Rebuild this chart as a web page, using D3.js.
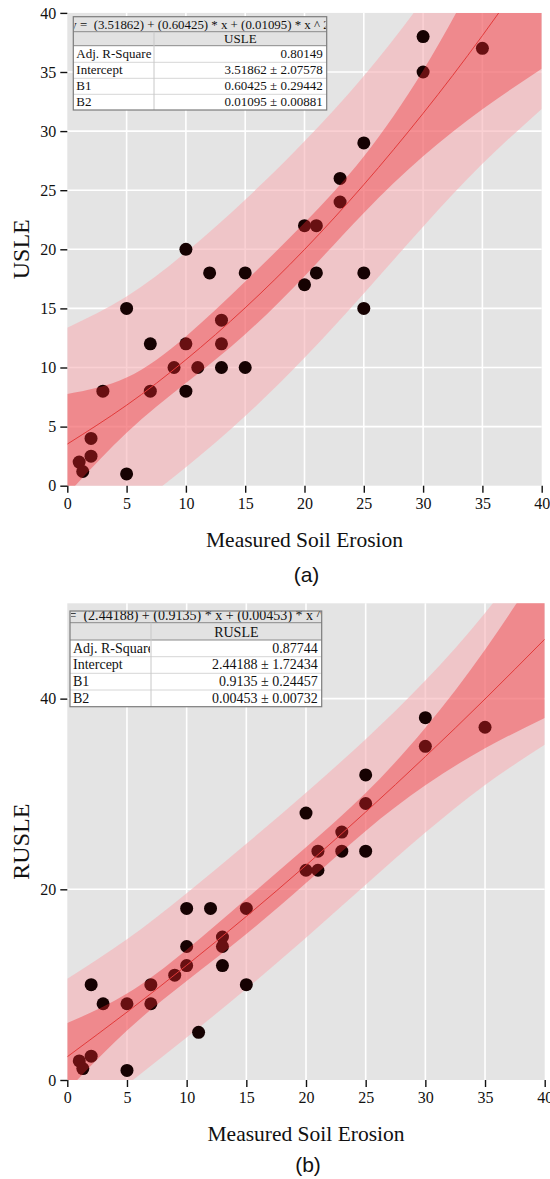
<!DOCTYPE html>
<html>
<head>
<meta charset="utf-8">
<script src="https://cdn.jsdelivr.net/npm/d3@7"></script>
<style>
  body { margin: 0; background: #fff; }
  svg { display: block; }
  text { font-family: "Liberation Serif", "Times New Roman", serif; fill: #111; }
</style>
</head>
<body>
<div id="chart"></div>
<script>
// measured soil erosion vs model estimates
const xTicks = [0, 5, 10, 15, 20, 25, 30, 35, 40];
const usleTicks = [0, 5, 10, 15, 20, 25, 30, 35, 40];
const rusleTicks = [0, 20, 40];

const usleX = [30, 35, 30, 25, 23, 23, 20, 21, 10, 12, 15, 21, 25, 20, 5, 25, 13, 7, 10, 13, 9, 11, 13, 15, 3, 7, 10, 2, 2, 1, 1.3, 5];
const usleY = [38, 37, 35, 29, 26, 24, 22, 22, 20, 18, 18, 18, 18, 17, 15, 15, 14, 12, 12, 12, 10, 10, 10, 10, 8, 8, 8, 4, 2.5, 2, 1.2, 1];

const rusleX = [30, 35, 30, 25, 25, 20, 23, 21, 23, 25, 20, 21, 10, 12, 15, 13, 10, 13, 10, 13, 9, 2, 7, 15, 3, 5, 7, 11, 2, 1, 1.3, 5];
const rusleY = [38, 37, 35, 32, 29, 28, 26, 24, 24, 24, 22, 22, 18, 18, 18, 15, 14, 14, 12, 12, 11, 10, 10, 10, 8, 8, 8, 5, 2.5, 2, 1.2, 1];

// fitted curve and 95% bands, read at x = 0, 5, ... 40
const bandX = [0, 5, 10, 15, 20, 25, 30, 35, 40];
const usleFit = [3.52, 6.81, 10.66, 15.05, 19.98, 25.47, 31.50, 38.08, 45.21];
const usleConfLo = [-0.73, 4.48, 8.68, 12.82, 17.73, 23.08, 27.87, 31.85, 35.27];
const usleConfHi = [7.76, 9.15, 12.63, 17.27, 22.24, 27.86, 35.13, 44.31, 55.15];
const uslePredLo = [-6.33, -2.37, 1.56, 5.89, 10.82, 16.27, 21.91, 27.23, 31.88];
const uslePredHi = [13.36, 16.00, 19.76, 24.20, 29.15, 34.67, 41.10, 48.93, 58.54];

const rusleFit = [2.44, 7.12, 12.03, 17.16, 22.52, 28.11, 33.92, 39.96, 46.23];
const rusleConfLo = [-1.09, 5.19, 10.39, 15.31, 20.65, 26.13, 30.91, 34.79, 37.97];
const rusleConfHi = [5.97, 9.06, 13.67, 19.01, 24.40, 30.10, 36.94, 45.14, 54.49];
const ruslePredLo = [-5.74, -0.51, 4.47, 9.56, 14.91, 20.47, 25.95, 30.95, 35.16];
const ruslePredHi = [10.62, 14.75, 19.59, 24.77, 30.14, 35.75, 41.90, 48.98, 57.31];

const usleEquation = "y =  (3.51862) + (0.60425) * x + (0.01095) * x ^ 2";
const usleRows = [
  ["Adj. R-Square", "0.80149"],
  ["Intercept", "3.51862 \u00b1 2.07578"],
  ["B1", "0.60425 \u00b1 0.29442"],
  ["B2", "0.01095 \u00b1 0.00881"]
];
const rusleEquation = "y =  (2.44188) + (0.9135) * x + (0.00453) * x ^ 2";
const rusleRows = [
  ["Adj. R-Square", "0.87744"],
  ["Intercept", "2.44188 \u00b1 1.72434"],
  ["B1", "0.9135 \u00b1 0.24457"],
  ["B2", "0.00453 \u00b1 0.00732"]
];

const W = 550, H = 1179;
const svg = d3.select("#chart").append("svg")
  .attr("width", W).attr("height", H)
  .attr("viewBox", [0, 0, W, H]);

function drawPanel(o) {
  const x = d3.scaleLinear().domain([0, 40]).range([o.left, o.right]);
  const y = d3.scaleLinear().domain([0, o.yMax]).range([o.bottom, o.top]);
  const g = svg.append("g");

  g.append("clipPath").attr("id", o.id + "-clip")
    .append("rect")
    .attr("x", o.left).attr("y", o.top)
    .attr("width", o.right - o.left).attr("height", o.bottom - o.top);

  g.append("rect")
    .attr("x", o.left).attr("y", o.top)
    .attr("width", o.right - o.left).attr("height", o.bottom - o.top)
    .attr("fill", "#e4e4e4");

  // grid
  g.selectAll(".vg").data(xTicks.filter(d => d > 0 && d < 40)).join("line")
    .attr("x1", d => x(d)).attr("x2", d => x(d))
    .attr("y1", o.top).attr("y2", o.bottom)
    .attr("stroke", "#fff").attr("stroke-width", 1.6);
  g.selectAll(".hg").data(o.yTicks.filter(d => d > 0 && d < o.yMax)).join("line")
    .attr("x1", o.left).attr("x2", o.right)
    .attr("y1", d => y(d)).attr("y2", d => y(d))
    .attr("stroke", "#fff").attr("stroke-width", 1.6);

  const plot = g.append("g").attr("clip-path", `url(#${o.id}-clip)`);
  const idx = d3.range(bandX.length);

  const band = (lo, hi) => d3.area()
    .curve(d3.curveNatural)
    .x(i => x(bandX[i]))
    .y0(i => y(lo[i]))
    .y1(i => y(hi[i]));

  plot.append("path").datum(idx)
    .attr("d", band(o.predLo, o.predHi))
    .attr("fill", "rgb(246,176,182)").attr("fill-opacity", 0.6);

  plot.selectAll("circle").data(o.px).join("circle")
    .attr("cx", d => x(d))
    .attr("cy", (d, i) => y(o.py[i]))
    .attr("r", 6.5)
    .attr("fill", "#160202");

  plot.append("path").datum(idx)
    .attr("d", band(o.confLo, o.confHi))
    .attr("fill", "rgb(238,40,44)").attr("fill-opacity", 0.38);

  plot.append("path").datum(idx)
    .attr("d", d3.line().curve(d3.curveNatural)
      .x(i => x(bandX[i])).y(i => y(o.fit[i])))
    .attr("fill", "none").attr("stroke", "#e23a3a").attr("stroke-width", 1);

  // axes
  const ax = g.append("g").attr("transform", `translate(0,${o.bottom})`)
    .call(d3.axisBottom(x).tickValues(xTicks).tickSize(7).tickPadding(5));
  const ay = g.append("g").attr("transform", `translate(${o.left},0)`)
    .call(d3.axisLeft(y).tickValues(o.yTicks).tickSize(7).tickPadding(4));
  [ax, ay].forEach(a => {
    a.select(".domain").remove();
    a.selectAll(".tick line").attr("stroke", "#111").attr("stroke-width", 1.4);
    a.selectAll(".tick text")
      .attr("font-family", "Liberation Serif, serif")
      .attr("font-size", 16).attr("fill", "#111");
  });

  g.append("text")
    .attr("x", (o.left + o.right) / 2).attr("y", o.bottom + 61)
    .attr("text-anchor", "middle").attr("font-size", 21.5)
    .text("Measured Soil Erosion");

  g.append("text")
    .attr("transform", `translate(29,${(o.top + o.bottom) / 2}) rotate(-90)`)
    .attr("text-anchor", "middle").attr("font-size", 24)
    .text(o.yLabel);

  g.append("text")
    .attr("x", (o.left + o.right) / 2 + 2).attr("y", o.bottom + o.tagDy)
    .attr("text-anchor", "middle")
    .style("font-family", "Liberation Sans, Arial, sans-serif")
    .attr("font-size", 21)
    .text(o.tag);

  drawTable(g, o);
}

function drawTable(g, o) {
  const t = o.table;
  const rows = t.rows; // row edges
  const tg = g.append("g");
  const cell = (x0, y0, x1, y1, fill) => tg.append("rect")
    .attr("x", x0).attr("y", y0).attr("width", x1 - x0).attr("height", y1 - y0)
    .attr("fill", fill);

  cell(t.x0, rows[0], t.x1, rows[2], "#e2e2e2");
  cell(t.x0, rows[2], t.x1, rows[6], "#fff");

  // clip for each cell
  const clipId = (k) => `${o.id}-c${k}`;
  const addClip = (k, x0, y0, x1, y1) => tg.append("clipPath").attr("id", clipId(k))
    .append("rect").attr("x", x0).attr("y", y0).attr("width", x1 - x0).attr("height", y1 - y0);

  // equation is wider than the table and gets cut on both sides
  addClip("eq", t.x0 + 1, rows[0], t.x1 - 1, rows[1]);
  const eqW = t.x1 - t.x0 + t.eqOver;
  tg.append("text")
    .attr("clip-path", `url(#${clipId("eq")})`)
    .attr("x", (t.x0 + t.x1) / 2 - eqW / 2).attr("y", rows[1] - 3)
    .attr("font-size", t.fs)
    .attr("textLength", eqW).attr("lengthAdjust", "spacingAndGlyphs")
    .style("white-space", "pre")
    .text(o.equation);

  tg.append("text")
    .attr("x", (t.col + t.x1) / 2).attr("y", rows[2] - 3)
    .attr("text-anchor", "middle").attr("font-size", t.fs)
    .text(o.yLabel);

  o.rows.forEach((r, i) => {
    const y0 = rows[i + 2], y1 = rows[i + 3];
    addClip("l" + i, t.x0 + 1, y0, t.col - 1, y1);
    tg.append("text")
      .attr("clip-path", `url(#${clipId("l" + i)})`)
      .attr("x", t.x0 + 3).attr("y", y1 - 4)
      .attr("font-size", t.fs).text(r[0]);
    tg.append("text")
      .attr("x", t.x1 - 4).attr("y", y1 - 4)
      .attr("text-anchor", "end").attr("font-size", t.fs).text(r[1]);
  });

  // lines
  rows.slice(1, 6).forEach((ry, i) => {
    tg.append("line").attr("x1", t.x0).attr("x2", t.x1)
      .attr("y1", ry).attr("y2", ry)
      .attr("stroke", i < 2 ? "#8a8a8a" : "#d6d6d6").attr("stroke-width", 1);
  });
  tg.append("line").attr("x1", t.col).attr("x2", t.col)
    .attr("y1", rows[1]).attr("y2", rows[6])
    .attr("stroke", "#c8c8c8").attr("stroke-width", 1);
  tg.append("rect")
    .attr("x", t.x0).attr("y", rows[0])
    .attr("width", t.x1 - t.x0).attr("height", rows[6] - rows[0])
    .attr("fill", "none").attr("stroke", "#7c7c7c").attr("stroke-width", 1.2);
}

drawPanel({
  id: "a", left: 67.3, right: 541.7, top: 12.9, bottom: 485.7, yMax: 40,
  yTicks: usleTicks, yLabel: "USLE", tag: "(a)", tagDy: 96,
  px: usleX, py: usleY, fit: usleFit,
  confLo: usleConfLo, confHi: usleConfHi, predLo: uslePredLo, predHi: uslePredHi,
  equation: usleEquation, rows: usleRows,
  table: { x0: 73.3, x1: 326.7, col: 154, fs: 13, eqOver: 6, rows: [16.7, 31.7, 45.7, 62.3, 78.3, 94.3, 110] }
});

drawPanel({
  id: "b", left: 67.3, right: 544.7, top: 603.3, bottom: 1080, yMax: 50,
  yTicks: rusleTicks, yLabel: "RUSLE", tag: "(b)", tagDy: 92,
  px: rusleX, py: rusleY, fit: rusleFit,
  confLo: rusleConfLo, confHi: rusleConfHi, predLo: ruslePredLo, predHi: ruslePredHi,
  equation: rusleEquation, rows: rusleRows,
  table: { x0: 70, x1: 321.7, col: 151, fs: 14, eqOver: 24, rows: [611, 622.7, 640, 656.7, 673.3, 690, 706.7] }
});
</script>
</body>
</html>
